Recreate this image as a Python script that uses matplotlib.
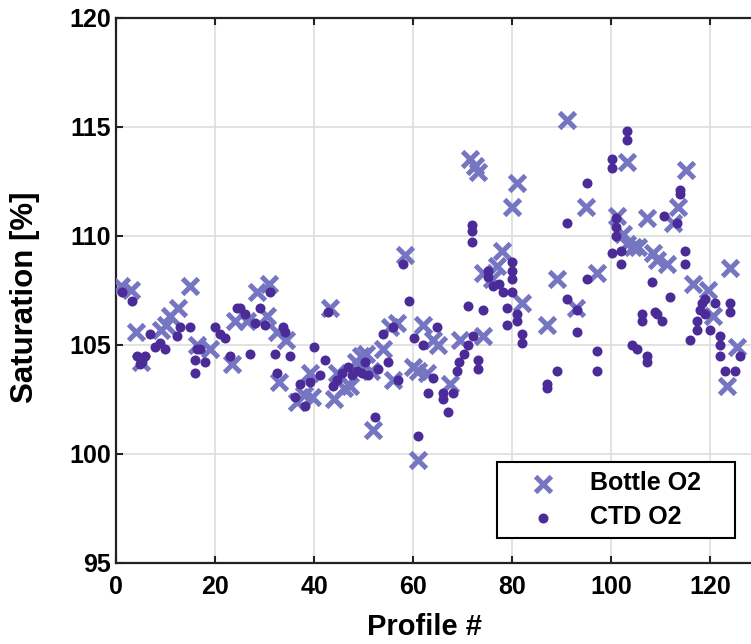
import numpy as np
import matplotlib
matplotlib.use("Agg")
import matplotlib.pyplot as plt
from matplotlib.patches import Rectangle

plt.rcParams["font.family"] = ["Liberation Sans", "DejaVu Sans"]
plt.rcParams["font.weight"] = "bold"

# Bottle oxygen saturation, one sample per profile
bottle_profile = [
    1, 3, 4, 5, 9, 10, 11, 12.5, 15, 16.3,
    19, 23.5, 24, 26.4, 28.5, 30.5, 31, 32.5, 33, 34.3,
    36.5, 38, 39.2, 39.5, 43.3, 44, 44.6, 46, 47.3, 48.5,
    49.5, 50.5, 51.5, 52, 54, 55.4, 56, 56.7, 58.4, 60,
    61, 61, 62, 62.8, 64, 65, 67.5, 69.5, 71.5, 72.5,
    73.2, 74.2, 74.2, 76, 77, 78, 80, 81, 82, 87,
    89, 91, 93, 95, 97.2, 101.2, 102.4, 103.2, 103.2, 104.4,
    105.5, 107.3, 108.5, 109.3, 111.3, 112.5, 113.5, 115.2, 116.6, 119.5,
    120.6, 123.4, 124, 125.5,
]
bottle_sat = [
    107.7, 107.5, 105.6, 104.2, 105.7, 105.9, 106.3, 106.7, 107.7, 105.0,
    104.8, 104.1, 106.1, 106.1, 107.4, 106.3, 107.8, 105.6, 103.3, 105.2,
    102.4, 102.7, 103.7, 102.6, 106.7, 102.5, 103.7, 103.0, 103.1, 104.2,
    104.5, 104.6, 103.8, 101.1, 104.8, 105.8, 103.4, 106.0, 109.1, 104.0,
    103.8, 99.7, 105.9, 103.7, 105.2, 105.0, 103.2, 105.2, 113.5, 113.2,
    112.9, 108.3, 105.4, 108.0, 108.6, 109.3, 111.3, 112.4, 106.9, 105.9,
    108.0, 115.3, 106.7, 111.3, 108.3, 110.9, 110.1, 113.4, 109.6, 109.5,
    109.5, 110.8, 109.2, 108.9, 108.7, 110.6, 111.3, 113.0, 107.8, 107.5,
    106.3, 103.1, 108.5, 104.9,
]

# CTD sensor saturation at the bottle depths
ctd_profile = [
    1.2, 3.2, 4.2, 4.8, 5.2, 5.9, 6.9, 7.9, 8.9, 9.9,
    12.3, 12.9, 14.9, 16.0, 16.0, 16.3, 17.0, 18.0, 20.0, 21.0,
    22.0, 23.0, 24.4, 25.0, 26.0, 27.1, 28.1, 29.1, 30.1, 31.1,
    32.1, 32.5, 33.8, 34.1, 35.2, 36.2, 37.2, 38.2, 39.2, 39.9,
    41.2, 42.2, 42.9, 43.9, 44.6, 45.6, 46.9, 47.6, 48.6, 49.6,
    50.3, 51.0, 52.3, 53.0, 54.0, 55.0, 56.0, 57.0, 58.0, 59.1,
    60.1, 61.1, 62.1, 63.1, 64.1, 64.8, 66.1, 66.1, 67.1, 68.1,
    68.8, 69.2, 70.2, 71.2, 71.2, 71.9, 71.9, 71.9, 72.2, 73.2,
    73.2, 74.2, 75.2, 75.2, 76.2, 77.3, 78.2, 79.0, 79.0, 79.9,
    79.9, 79.9, 79.9, 81.0, 81.0, 82.0, 82.0, 87.0, 87.0, 89.0,
    91.0, 91.0, 93.1, 93.1, 95.1, 95.1, 97.1, 97.1, 100.1, 100.1,
    100.1, 101.1, 101.1, 101.1, 102.1, 102.1, 103.2, 103.2, 104.2, 105.2,
    106.2, 106.2, 107.2, 107.2, 108.2, 108.9, 109.2, 110.2, 110.7, 111.9,
    113.3, 113.9, 113.9, 115.0, 115.0, 116.0, 117.3, 117.3, 118.0, 118.3,
    119.0, 119.0, 120.0, 121.0, 122.0, 122.0, 122.0, 123.0, 124.0, 124.0,
    125.0, 126.0,
]
ctd_sat = [
    107.4, 107.0, 104.5, 104.1, 104.2, 104.5, 105.5, 104.9, 105.1, 104.8,
    105.4, 105.8, 105.8, 104.3, 103.7, 104.8, 104.8, 104.2, 105.8, 105.5,
    105.3, 104.5, 106.7, 106.7, 106.4, 104.6, 106.0, 106.7, 105.9, 107.4,
    104.6, 103.7, 105.8, 105.6, 104.5, 102.6, 103.2, 102.2, 103.3, 104.9,
    103.6, 104.3, 106.5, 103.1, 103.4, 103.7, 104.0, 103.6, 103.8, 103.7,
    104.2, 103.6, 101.7, 103.9, 105.5, 104.2, 105.8, 103.4, 108.7, 107.0,
    105.3, 100.8, 105.0, 102.8, 103.5, 105.8, 102.8, 102.5, 101.9, 102.8,
    103.8, 104.2, 104.6, 105.0, 106.8, 110.5, 110.2, 109.7, 105.4, 104.3,
    103.9, 106.6, 108.4, 108.1, 107.7, 107.8, 107.4, 106.7, 105.9, 108.8,
    108.4, 108.0, 107.4, 106.4, 106.1, 105.5, 105.1, 103.2, 103.0, 103.8,
    110.6, 107.1, 106.6, 105.6, 112.4, 108.0, 104.7, 103.8, 113.5, 113.1,
    109.2, 110.8, 110.4, 110.0, 109.3, 108.7, 114.8, 114.4, 105.0, 104.8,
    106.4, 106.1, 104.5, 104.2, 107.9, 106.5, 106.4, 106.1, 110.9, 107.2,
    110.6, 112.1, 111.9, 109.3, 108.7, 105.2, 106.1, 105.7, 106.6, 106.9,
    107.1, 106.4, 105.7, 106.9, 105.4, 105.0, 104.5, 103.8, 106.9, 106.5,
    103.8, 104.5,
]

bottle_color = "#7575c2"
ctd_color = "#4a2b98"

fig = plt.figure(figsize=(7.51, 6.44), dpi=100)
ax = fig.add_axes([0.1545, 0.1258, 0.8569, 0.847])

ax.scatter(bottle_profile, bottle_sat, marker="x", s=130, linewidths=3.6,
           color=bottle_color, label="Bottle O2", zorder=3)
ax.scatter(ctd_profile, ctd_sat, marker="o", s=52, linewidths=0,
           color=ctd_color, label="CTD O2", zorder=4)

ax.set_xlim(0, 130)
ax.set_ylim(95, 120)
ax.set_xticks(np.arange(0, 121, 20))
ax.set_yticks(np.arange(95, 121, 5))
ax.grid(True, color="#dddddd", linewidth=1.2)
ax.set_axisbelow(True)

ax.tick_params(direction="in", length=5, width=1.5, top=True, right=True,
               labelsize=18, color="#222222")
ax.tick_params(axis="x", pad=9)
for spine in ax.spines.values():
    spine.set_linewidth(1.6)
    spine.set_color("#222222")

ax.set_xlabel("Profile #", fontsize=21, fontweight="bold")
ax.set_ylabel("Saturation [%]", fontsize=22.5, fontweight="bold")
ax.xaxis.set_label_coords(0.480, -0.092)
ax.yaxis.set_label_coords(-0.118, 0.487)

# legend box drawn separately so it can be wider than its contents
ax.add_patch(Rectangle((0.592, 0.0458), 0.370, 0.139, transform=ax.transAxes,
                       facecolor="white", edgecolor="black", linewidth=1.5,
                       zorder=5))
leg = ax.legend(loc="center left", bbox_to_anchor=(0.6247, 0.1146),
                borderaxespad=0, borderpad=0, fontsize=18, frameon=False,
                handlelength=2, handletextpad=0.88, labelspacing=0.4)
leg.set_zorder(6)

fig.savefig("out.png", dpi=100)
